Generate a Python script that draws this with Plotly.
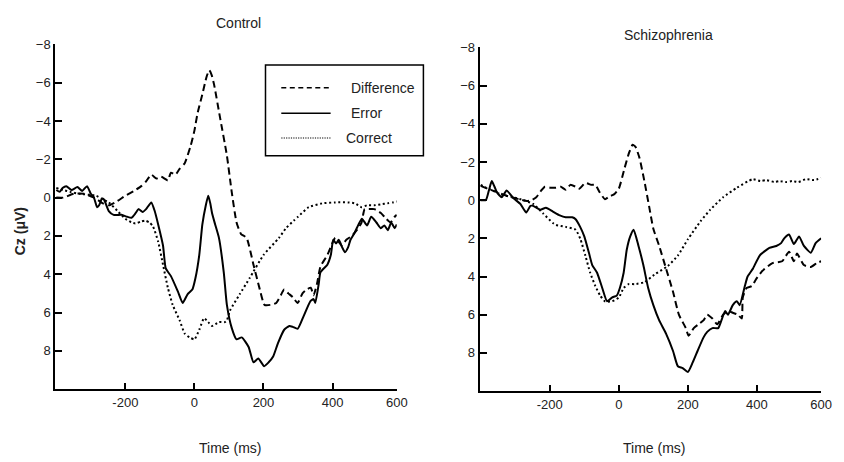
import plotly.graph_objects as go

# ---------------- Data ----------------
# Control group
ctrl_diff_t = [-400, -380, -350, -320, -290, -265, -248, -225, -200, -175, -154, -140, -125, -110, -97, -77, -68, -55, -43, -28, -11, 0, 9, 23, 35, 43, 50, 57, 74, 94, 108, 122, 135, 151, 171, 188, 203, 220, 237, 250, 260, 272, 285, 299, 313, 325, 337, 345, 355, 365, 385, 408, 427, 440, 456, 470, 484, 493, 505, 521, 540, 555, 568, 580, 586]
ctrl_diff_v = [0.0, 0.0, -0.2, -0.2, 0.0, 0.3, 0.4, 0.2, -0.1, -0.35, -0.6, -0.85, -1.2, -1.0, -1.1, -0.9, -1.3, -1.2, -1.5, -1.8, -2.7, -3.5, -4.4, -5.4, -6.3, -6.65, -6.4, -5.9, -4.2, -2.2, -0.3, 1.3, 1.9, 2.1, 3.5, 4.7, 5.6, 5.6, 5.5, 5.1, 4.8, 5.0, 5.2, 5.5, 5.0, 4.8, 4.7, 5.1, 4.5, 3.6, 3.0, 2.1, 2.5, 2.2, 2.0, 1.7, 1.3, 0.6, 0.6, 0.6, 0.8, 1.1, 1.3, 1.0, 0.9]

ctrl_err_t = [-400, -390, -382, -371, -356, -339, -325, -311, -300, -291, -282, -276, -268, -262, -248, -234, -211, -195, -182, -170, -162, -150, -140, -125, -115, -105, -91, -83, -68, -48, -34, -20, -6, 3, 14, 23, 33, 40, 46, 51, 60, 71, 85, 94, 108, 122, 137, 157, 171, 185, 202, 215, 228, 242, 260, 275, 285, 299, 316, 336, 345, 350, 360, 365, 385, 395, 402, 410, 418, 428, 436, 445, 452, 462, 470, 485, 500, 512, 527, 540, 550, 560, 570, 580, 586]
ctrl_err_v = [-0.4, -0.3, -0.5, -0.6, -0.4, -0.55, -0.35, -0.6, -0.2, 0.0, 0.5, 0.4, 0.05, 0.1, 0.7, 0.9, 0.9, 1.0, 1.05, 0.8, 0.6, 0.75, 0.6, 0.25, 0.7, 1.4, 2.5, 3.7, 4.1, 4.9, 5.5, 5.05, 4.8, 4.2, 3.0, 1.4, 0.4, -0.1, 0.3, 0.8, 1.4, 2.1, 3.9, 5.6, 6.8, 7.4, 7.3, 7.8, 8.6, 8.4, 8.8, 8.6, 8.3, 7.6, 6.9, 6.7, 6.75, 6.85, 6.2, 5.4, 5.3, 5.5, 4.5, 3.9, 3.5, 3.0, 2.2, 2.4, 2.2, 2.6, 2.85, 2.6, 2.2, 1.9, 1.6, 1.1, 1.45, 1.0, 1.3, 1.6, 1.45, 1.7, 1.3, 1.6, 1.4]

ctrl_cor_t = [-400, -380, -360, -333, -285, -265, -248, -220, -200, -182, -171, -155, -143, -130, -120, -105, -91, -77, -63, -43, -28, -14, 0, 14, 28, 40, 51, 71, 88, 94, 103, 131, 160, 200, 245, 265, 288, 300, 331, 370, 408, 445, 465, 484, 500, 521, 540, 559, 575, 586]
ctrl_cor_v = [-0.5, -0.4, -0.3, -0.2, -0.1, 0.1, 0.25, 0.75, 1.1, 1.3, 1.35, 1.25, 1.2, 1.3, 1.5, 2.3, 3.5, 4.7, 5.6, 6.4, 7.1, 7.3, 7.4, 6.9, 6.3, 6.5, 6.7, 6.5, 6.5, 6.4, 5.9, 5.05, 4.2, 3.0, 2.1, 1.6, 1.2, 1.0, 0.5, 0.3, 0.25, 0.25, 0.3, 0.5, 0.4, 0.4, 0.35, 0.3, 0.25, 0.2]

# Schizophrenia group
scz_diff_t = [-400, -380, -350, -320, -290, -265, -252, -239, -225, -214, -198, -182, -168, -154, -140, -125, -114, -97, -80, -68, -55, -40, -27, -14, 0, 17, 30, 40, 48, 60, 74, 88, 100, 117, 137, 157, 174, 194, 202, 217, 231, 245, 256, 271, 285, 302, 316, 330, 345, 356, 359, 370, 385, 399, 416, 445, 473, 493, 507, 516, 536, 556, 573, 586]
scz_diff_v = [-0.75, -0.6, -0.4, -0.2, -0.05, 0.05, 0.0, -0.15, -0.5, -0.7, -0.65, -0.65, -0.7, -0.55, -0.8, -0.7, -0.6, -0.9, -0.8, -0.8, -0.4, -0.05, -0.2, -0.3, -0.6, -1.7, -2.5, -2.9, -2.8, -2.2, -1.0, 0.35, 1.5, 2.4, 3.6, 4.8, 6.0, 6.7, 7.1, 6.7, 6.5, 6.3, 6.0, 6.2, 6.5, 6.0, 5.8, 5.9, 6.0, 6.2, 5.1, 4.6, 4.5, 4.1, 3.7, 3.3, 3.2, 2.7, 3.2, 2.8, 3.4, 3.5, 3.3, 3.2]

scz_err_t = [-400, -385, -375, -368, -360, -353, -339, -325, -305, -285, -268, -256, -248, -228, -211, -191, -171, -154, -135, -125, -112, -100, -86, -77, -63, -48, -34, -20, -6, 3, 14, 23, 33, 43, 57, 71, 85, 100, 117, 137, 157, 171, 185, 200, 214, 228, 245, 256, 271, 288, 299, 308, 316, 330, 342, 350, 365, 373, 388, 408, 436, 456, 470, 479, 493, 507, 522, 536, 556, 570, 586]
scz_err_v = [0.0, 0.0, -0.6, -1.0, -0.7, -0.4, -0.15, -0.5, -0.1, 0.2, 0.65, 0.3, 0.3, 0.5, 0.4, 0.6, 0.8, 0.9, 0.9, 1.0, 1.4, 1.9, 2.8, 3.4, 3.8, 4.6, 5.3, 5.1, 5.0, 4.6, 3.8, 2.6, 1.9, 1.55, 2.4, 3.4, 4.6, 5.5, 6.3, 7.0, 7.9, 8.7, 8.8, 9.0, 8.5, 7.9, 7.2, 6.9, 6.7, 6.7, 6.2, 5.8, 6.0, 5.5, 5.3, 5.5, 4.5, 4.0, 3.6, 2.9, 2.5, 2.4, 2.25, 2.0, 1.8, 2.3, 1.9, 2.4, 2.75, 2.25, 2.0]

scz_cor_t = [-400, -385, -371, -342, -305, -276, -248, -219, -191, -182, -154, -125, -111, -97, -83, -68, -54, -40, -20, 0, 14, 28, 46, 74, 103, 142, 171, 200, 237, 265, 302, 342, 388, 410, 428, 450, 465, 485, 502, 520, 542, 565, 586]
scz_cor_v = [-0.8, -0.65, -0.55, -0.3, -0.15, 0.0, 0.2, 0.7, 1.2, 1.3, 1.4, 1.55, 2.05, 2.9, 3.8, 4.5, 5.0, 5.3, 5.3, 5.1, 4.6, 4.4, 4.4, 4.3, 3.9, 3.45, 2.9, 2.05, 1.1, 0.5, -0.15, -0.65, -1.1, -1.0, -1.05, -0.95, -1.0, -0.95, -1.0, -0.95, -1.1, -1.05, -1.15]

y_ticks = [-8, -6, -4, -2, 0, 2, 4, 6, 8]
x_tickvals = [-200, 0, 200, 400, 586]
x_ticktext = ["-200", "0", "200", "400", "600"]
legend_labels = ["Difference", "Error", "Correct"]

# ---------------- Figure ----------------
W, H = 844, 462
FONT = "Liberation Sans, Arial, sans-serif"
DASH = "7px,4px"
DOT = "2px,2.6px"

def px(x):
    return x / W

def py(y):
    return 1 - y / H

fig = go.Figure()

def add_group(xa, ya, diff_t, diff_v, err_t, err_v, cor_t, cor_v):
    fig.add_trace(go.Scatter(x=cor_t, y=cor_v, mode="lines", xaxis=xa, yaxis=ya,
                             line=dict(color="black", width=2, dash=DOT, shape="spline", smoothing=0.5),
                             showlegend=False, hoverinfo="skip"))
    fig.add_trace(go.Scatter(x=diff_t, y=diff_v, mode="lines", xaxis=xa, yaxis=ya,
                             line=dict(color="black", width=2, dash=DASH, shape="spline", smoothing=0.5),
                             showlegend=False, hoverinfo="skip"))
    fig.add_trace(go.Scatter(x=err_t, y=err_v, mode="lines", xaxis=xa, yaxis=ya,
                             line=dict(color="black", width=2, shape="spline", smoothing=0.5),
                             showlegend=False, hoverinfo="skip"))

add_group("x", "y", ctrl_diff_t, ctrl_diff_v, ctrl_err_t, ctrl_err_v, ctrl_cor_t, ctrl_cor_v)
add_group("x2", "y2", scz_diff_t, scz_diff_v, scz_err_t, scz_err_v, scz_cor_t, scz_cor_v)

xcommon = dict(range=[-403, 586], tickvals=x_tickvals, ticktext=x_ticktext,
               showline=True, linecolor="black", linewidth=2, ticks="inside",
               ticklen=6, tickwidth=2, tickcolor="black", showgrid=False, zeroline=False,
               tickfont=dict(family=FONT, size=13, color="#222"))
ycommon = dict(range=[10, -8], tickvals=y_ticks,
               showline=True, linecolor="black", linewidth=2, ticks="inside",
               ticklen=7, tickwidth=2, tickcolor="black", showgrid=False, zeroline=False,
               tickfont=dict(family=FONT, size=13, color="#222"))

fig.update_layout(
    width=W, height=H,
    margin=dict(l=0, r=0, t=0, b=0),
    paper_bgcolor="white", plot_bgcolor="white",
    showlegend=False, hovermode=False,
    xaxis=dict(domain=[px(56), px(402)], anchor="y", **xcommon),
    yaxis=dict(domain=[py(388), py(38)], anchor="x", **ycommon),
    xaxis2=dict(domain=[px(486), px(832)], anchor="y2", **xcommon),
    yaxis2=dict(domain=[py(390), py(41)], anchor="x2", **ycommon),
)

ann = []
def text(x, y, s, size=14, bold=False, xanchor="center", angle=0):
    ann.append(dict(x=px(x), y=py(y), xref="paper", yref="paper", text=("<b>%s</b>" % s) if bold else s,
                    showarrow=False, xanchor=xanchor, yanchor="middle", textangle=angle,
                    font=dict(family=FONT, size=size, color="#222")))

text(242, 16, "Control")
text(677, 28, "Schizophrenia")
text(233, 448, "Time (ms)")
text(663, 448, "Time (ms)")
text(20, 228, "Cz (μV)", size=14, bold=True, angle=-90)

# Legend (drawn as a box in the control panel)
shapes = [dict(type="rect", xref="paper", yref="paper", x0=px(269), x1=px(429), y0=py(151), y1=py(59),
               line=dict(color="black", width=1.5), fillcolor="white", layer="above")]
legend_y = [82, 108, 133]
legend_dash = ["5px,3.5px", "solid", "1.2px,1.2px"]
legend_w = [1.5, 1.5, 1.2]
legend_x = [354, 354, 349]
for lab, yy, d, lw, lx in zip(legend_labels, legend_y, legend_dash, legend_w, legend_x):
    shapes.append(dict(type="line", xref="paper", yref="paper", x0=px(285), x1=px(335), y0=py(yy), y1=py(yy),
                       line=dict(color="black", width=lw, dash=d), layer="above"))
    text(lx, yy, lab, size=14, xanchor="left")

fig.update_layout(annotations=ann, shapes=shapes)

fig.write_html("out.html", config={"displayModeBar": False, "staticPlot": True},
               post_script="document.body.style.margin='0';document.body.style.overflow='hidden';")
